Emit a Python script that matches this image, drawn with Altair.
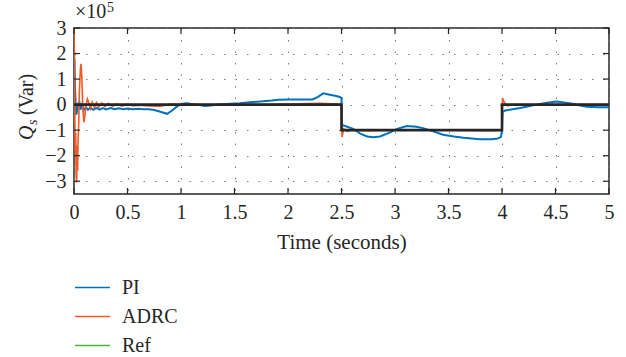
import altair as alt
import pandas as pd

# Reactive power Qs (in units of 1e5 Var) versus time for the two controllers
pi_t = [0, 0.004, 0.01, 0.02, 0.03, 0.04, 0.05, 0.06, 0.075, 0.09, 0.11, 0.13, 0.15,
        0.18, 0.21, 0.24, 0.27, 0.30, 0.34, 0.38, 0.42, 0.46, 0.50, 0.55, 0.60, 0.65,
        0.70, 0.74, 0.80, 0.87, 0.92, 0.96, 1.0, 1.05, 1.1, 1.15, 1.22, 1.28, 1.35,
        1.46, 1.55, 1.64, 1.77, 1.85, 1.91, 2.0, 2.1, 2.23, 2.28, 2.33, 2.39, 2.45,
        2.49, 2.5, 2.505, 2.52, 2.61, 2.68, 2.74, 2.80, 2.86, 2.95, 3.02, 3.11, 3.2,
        3.27, 3.33, 3.45, 3.55, 3.64, 3.79, 3.9, 3.95, 3.99, 4.0, 4.005, 4.03, 4.1,
        4.17, 4.25, 4.32, 4.42, 4.51, 4.58, 4.66, 4.72, 4.79, 4.9, 5.0]
pi_q = [0.0, 1.8, 0.6, -0.4, -0.25, 0.05, 0.1, -0.2, 0.0, -0.22, -0.1, -0.2, -0.12,
        -0.2, -0.13, -0.2, -0.14, -0.19, -0.13, -0.18, -0.14, -0.18, -0.15, -0.18,
        -0.16, -0.18, -0.18, -0.2, -0.27, -0.36, -0.22, -0.08, 0.03, 0.05, 0.02, 0.0,
        -0.05, -0.03, 0.0, 0.03, 0.05, 0.09, 0.13, 0.16, 0.19, 0.2, 0.2, 0.2, 0.3,
        0.44, 0.39, 0.34, 0.29, 0.25, -0.8, -0.82, -0.95, -1.15, -1.25, -1.28, -1.25,
        -1.1, -0.95, -0.84, -0.87, -0.93, -1.01, -1.18, -1.25, -1.30, -1.36, -1.36,
        -1.34, -1.27, -1.0, -0.3, -0.23, -0.18, -0.13, -0.06, 0.0, 0.07, 0.12, 0.08,
        0.03, -0.03, -0.08, -0.1, -0.1]

adrc_t = [0, 0.004, 0.008, 0.012, 0.016, 0.02, 0.025, 0.03, 0.034, 0.038, 0.044,
          0.05, 0.06, 0.066, 0.073, 0.082, 0.092, 0.1, 0.11, 0.125, 0.14, 0.155, 0.17,
          0.19, 0.21, 0.23, 0.26, 0.29, 0.32, 0.36, 0.40, 0.45, 0.5, 0.55, 0.6, 0.7,
          0.8, 0.85, 0.9, 1.0, 1.5, 2.0, 2.3, 2.45, 2.5, 2.505, 2.52, 2.55, 2.6, 2.75,
          3.0, 3.5, 3.9, 4.0, 4.005, 4.02, 4.05, 4.1, 5.0]
adrc_q = [3.0, 2.0, -0.6, -2.0, -1.1, -2.8, -3.05, -1.6, -2.6, -1.4, -0.8, 0.5, 1.4,
          1.6, 1.1, -0.1, -0.69, -0.5, -0.05, 0.22, 0.05, -0.15, 0.1, -0.12, 0.08,
          -0.1, 0.06, -0.08, 0.05, -0.07, 0.03, -0.06, 0.02, -0.05, -0.02, -0.05,
          -0.06, -0.03, 0.02, 0.0, 0.0, 0.02, 0.05, 0.02, 0.0, -1.27, -0.95, -1.05,
          -1.0, -1.02, -1.0, -1.0, -1.02, -1.0, 0.25, 0.1, -0.05, 0.0, 0.0]

ref_t = [0, 2.5, 2.5, 4.0, 4.0, 5.0]
ref_q = [0, 0, -1, -1, 0, 0]

series_names = ["PI", "ADRC", "Ref"]
series_colors = ["#0072BD", "#EE5A24", "#4DB33D"]

x_ticks = [0, 0.5, 1, 1.5, 2, 2.5, 3, 3.5, 4, 4.5, 5]
y_ticks = [-3, -2, -1, 0, 1, 2, 3]

FONT = "Liberation Serif"
INK = "#262626"
FS = 20
W, H = 535, 166


def frame(name, t, q):
    return pd.DataFrame({"t": t, "q": q, "series": name, "i": range(len(t))})


pi_df = frame("PI", pi_t, pi_q)
adrc_df = frame("ADRC", adrc_t, adrc_q)
ref_df = frame("Ref", ref_t, ref_q)

x_scale = alt.Scale(domain=[0, 5], nice=False, zero=False)
y_scale = alt.Scale(domain=[-3.5, 3], nice=False, zero=False)

x_axis = alt.Axis(values=x_ticks, format="~g", title="Time (seconds)", labelFont=FONT,
                  titleFont=FONT, labelFontSize=FS, titleFontSize=21, labelColor=INK,
                  titleColor=INK, titleFontWeight="normal", tickSize=0, domain=False,
                  labelPadding=8, labelOverlap=False, titleBaseline="middle",
                  titleY=48, labelFlush=False,
                  grid=True, gridColor="#7a7a7a", gridDash=[1.5, 10], gridWidth=1)
y_axis = alt.Axis(values=y_ticks, format="~g", title=None, labelFont=FONT,
                  labelFontSize=FS, labelColor=INK, tickSize=0, domain=False,
                  labelPadding=8, labelOverlap=False, labelFlush=False,
                  labelExpr="replace(datum.label, '-', '−')",
                  grid=True, gridColor="#7a7a7a", gridDash=[1.5, 10], gridWidth=1)

X = alt.X("t:Q", scale=x_scale, axis=x_axis)
Y = alt.Y("q:Q", scale=y_scale, axis=y_axis)

color = alt.Color("series:N",
                  scale=alt.Scale(domain=series_names, range=series_colors),
                  legend=alt.Legend(title=None, orient="none", legendX=0, legendY=241,
                                    direction="vertical", symbolType="stroke",
                                    symbolSize=1225, symbolStrokeWidth=1.6,
                                    labelFont=FONT, labelFontSize=FS, labelColor=INK,
                                    labelOffset=11, rowPadding=0, padding=0))

pi_line = alt.Chart(pi_df).mark_line(strokeWidth=2, clip=True).encode(
    x=X, y=Y, color=color, order="i:Q")
adrc_line = alt.Chart(adrc_df).mark_line(strokeWidth=1.6, clip=True).encode(
    x=X, y=Y, color=color, order="i:Q")
ref_line = alt.Chart(ref_df).mark_line(strokeWidth=2.6, color=INK, clip=True).encode(
    x=X, y=Y, order="i:Q")

# inward tick marks on all four sides of the box
xt = pd.DataFrame({"t": x_ticks})
yt = pd.DataFrame({"q": y_ticks})
ticks_top = alt.Chart(xt).mark_rule(color=INK, strokeWidth=1.2).encode(
    x=X, y=alt.value(0), y2=alt.value(6))
ticks_bottom = alt.Chart(xt).mark_rule(color=INK, strokeWidth=1.2).encode(
    x=X, y=alt.value(H - 6), y2=alt.value(H))
ticks_left = alt.Chart(yt).mark_rule(color=INK, strokeWidth=1.2).encode(
    y=Y, x=alt.value(0), x2=alt.value(6))
ticks_right = alt.Chart(yt).mark_rule(color=INK, strokeWidth=1.2).encode(
    y=Y, x=alt.value(W - 6), x2=alt.value(W))

# exponent note above the y axis
exp_base = alt.Chart(pd.DataFrame({"s": ["×10"]})).mark_text(
    font=FONT, fontSize=FS, color=INK, align="left", baseline="alphabetic").encode(
    text="s:N", x=alt.value(1), y=alt.value(-10))
exp_pow = alt.Chart(pd.DataFrame({"s": ["5"]})).mark_text(
    font=FONT, fontSize=14, color=INK, align="left", baseline="alphabetic").encode(
    text="s:N", x=alt.value(33), y=alt.value(-16))

# y axis title: Q with subscript s, then (Var)
yt_q = alt.Chart(pd.DataFrame({"s": ["Q"]})).mark_text(
    font=FONT, fontSize=20, fontStyle="italic", color=INK, angle=270,
    align="left", baseline="middle").encode(
    text="s:N", x=alt.value(-47), y=alt.value(112))
yt_s = alt.Chart(pd.DataFrame({"s": ["s"]})).mark_text(
    font=FONT, fontSize=14, fontStyle="italic", color=INK, angle=270,
    align="left", baseline="middle").encode(
    text="s:N", x=alt.value(-41), y=alt.value(97))
yt_var = alt.Chart(pd.DataFrame({"s": ["(Var)"]})).mark_text(
    font=FONT, fontSize=20, color=INK, angle=270,
    align="left", baseline="middle").encode(
    text="s:N", x=alt.value(-47), y=alt.value(87))

chart = alt.layer(
    pi_line, adrc_line, ref_line,
    ticks_top, ticks_bottom, ticks_left, ticks_right,
    exp_base, exp_pow, yt_q, yt_s, yt_var,
).properties(
    width=W, height=H,
    autosize=alt.AutoSizeParams(type="none"),
    padding={"left": 74, "top": 28, "right": 17, "bottom": 163},
    background="white",
).configure_view(
    stroke=INK, strokeWidth=1.5,
).configure_axis(
    labelOverlap=False,
)

chart.save("out.html", embed_options={"renderer": "svg", "actions": False})
